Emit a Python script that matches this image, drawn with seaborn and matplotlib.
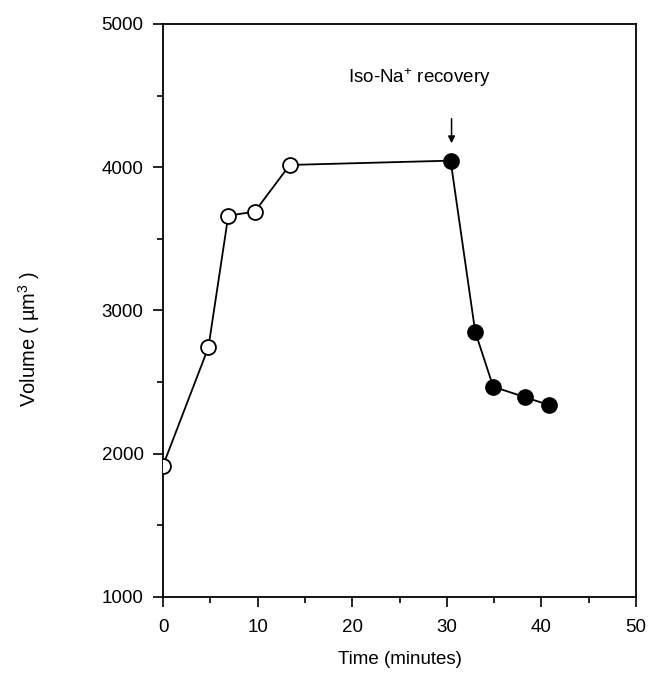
import numpy as np
import pandas as pd
import seaborn as sns
from matplotlib import pyplot as plt
from matplotlib.ticker import MultipleLocator

# data
time_open = [0.0, 4.8, 6.9, 9.7, 13.4]
vol_open = [1917, 2743, 3662, 3690, 4016]
time_filled = [30.4, 33.0, 34.9, 38.3, 40.8]
vol_filled = [4046, 2852, 2468, 2394, 2340]

df = pd.DataFrame({
    "time": time_open + time_filled,
    "volume": vol_open + vol_filled,
    "phase": ["hyper"] * len(time_open) + ["recovery"] * len(time_filled),
})

sns.set_style("ticks")
plt.rcParams["font.family"] = ["Liberation Sans", "DejaVu Sans"]
plt.rcParams["mathtext.default"] = "regular"
plt.rcParams["text.color"] = "black"
plt.rcParams["axes.labelcolor"] = "black"
plt.rcParams["xtick.color"] = "black"
plt.rcParams["ytick.color"] = "black"

fig = plt.figure(figsize=(6.51, 6.76), dpi=100)
ax = fig.add_axes([0.2504, 0.1169, 0.7266, 0.8476])

sns.lineplot(data=df, x="time", y="volume", sort=False, color="black",
             linewidth=1.3, ax=ax, zorder=2)
sns.scatterplot(data=df[df.phase == "hyper"], x="time", y="volume", ax=ax,
                s=115, facecolor="white", edgecolor="black", linewidth=1.3,
                zorder=3)
sns.scatterplot(data=df[df.phase == "recovery"], x="time", y="volume", ax=ax,
                s=115, color="black", edgecolor="black", linewidth=1.3,
                zorder=3)

ax.set_xlim(0, 50)
ax.set_ylim(1000, 5000)
ax.xaxis.set_major_locator(MultipleLocator(10))
ax.xaxis.set_minor_locator(MultipleLocator(5))
ax.yaxis.set_major_locator(MultipleLocator(1000))
ax.yaxis.set_minor_locator(MultipleLocator(500))
ax.tick_params(which="major", length=7, width=1.2, labelsize=13.5)
ax.tick_params(axis="x", which="major", pad=9)
ax.tick_params(axis="y", which="major", pad=7)
ax.tick_params(which="minor", length=4, width=1.2)
for sp in ax.spines.values():
    sp.set_linewidth(1.3)
    sp.set_color("black")

ax.set_xlabel("Time (minutes)", fontsize=13.5, labelpad=11)
ax.set_ylabel("Volume ( µm$^3$ )", fontsize=14.5)
ax.yaxis.set_label_coords(-0.256, 0.451)

# arrow marking the switch back to iso-Na+
ax.annotate("", xy=(30.5, 4148), xytext=(30.5, 4358),
            arrowprops=dict(arrowstyle="-|>", color="black", lw=1.1,
                            mutation_scale=10))
ax.text(19.6, 4588, "Iso-Na$^{+}$ recovery", fontsize=13.5, ha="left",
        va="baseline")

fig.savefig("out.png", dpi=100)
